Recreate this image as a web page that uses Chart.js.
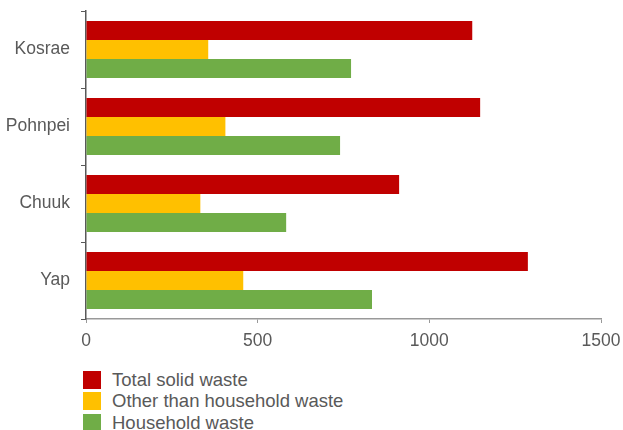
<!DOCTYPE html>
<html>
<head>
<meta charset="utf-8">
<script src="https://cdn.jsdelivr.net/npm/chart.js@4"></script>
<style>
  body { margin: 0; background: #fff; font-family: "Liberation Sans", Arial, sans-serif; }
  #wrap { position: relative; width: 623px; height: 430px; }
  #legend { position: absolute; left: 83px; top: 369px; }
  .item { display: flex; align-items: center; height: 21.5px; color: #595959; font-size: 18.5px; }
  .box { width: 18px; height: 18px; margin-right: 11px; }
</style>
</head>
<body>
<div id="wrap">
  <canvas id="chart" width="623" height="360"></canvas>
  <div id="legend"></div>
</div>
<script>
const islands = ["Kosrae", "Pohnpei", "Chuuk", "Yap"];
const seriesNames = ["Total solid waste", "Other than household waste", "Household waste"];
const totalWaste = [1125, 1148, 912, 1287];
const otherWaste = [356, 406, 333, 458];
const householdWaste = [772, 740, 583, 833];
const xTicks = [0, 500, 1000, 1500];

const colors = ["#c00000", "#ffc000", "#70ad47"];
const values = [totalWaste, otherWaste, householdWaste];

const datasets = seriesNames.map((name, i) => ({
  label: name,
  data: values[i],
  backgroundColor: colors[i],
  borderWidth: 0,
  barPercentage: 1.0,
  categoryPercentage: 0.74,
}));

const textColor = "#595959";
const font = { family: "'Liberation Sans', Arial, sans-serif", size: 17.5 };

new Chart(document.getElementById("chart"), {
  type: "bar",
  data: { labels: islands, datasets: datasets },
  options: {
    indexAxis: "y",
    responsive: false,
    animation: false,
    layout: { padding: { top: 11, right: 22, left: 0, bottom: 0 } },
    plugins: {
      legend: { display: false },
      tooltip: { enabled: false },
    },
    scales: {
      x: {
        min: xTicks[0],
        max: xTicks[xTicks.length - 1],
        afterBuildTicks: (scale) => {
          scale.ticks = xTicks.map((v) => ({ value: v }));
        },
        afterFit: (scale) => {
          scale.height = 41;
          scale.paddingLeft = 0;
          scale.paddingRight = 0;
        },
        grid: {
          drawOnChartArea: false,
          tickLength: 4,
          color: "#999999",
        },
        border: { color: "#999999", width: 1.5 },
        ticks: { color: textColor, font: font, padding: 8, callback: (v) => String(v) },
      },
      y: {
        afterFit: (scale) => {
          scale.width = 86;
          scale.paddingTop = 0;
          scale.paddingBottom = 0;
        },
        grid: {
          drawOnChartArea: false,
          tickLength: 5,
          color: "#595959",
        },
        border: { color: "#595959", width: 1.5 },
        ticks: { color: textColor, font: font, padding: 11 },
      },
    },
  },
});

const legend = document.getElementById("legend");
seriesNames.forEach((name, i) => {
  const row = document.createElement("div");
  row.className = "item";
  row.innerHTML = `<span class="box" style="background:${colors[i]}"></span><span>${name}</span>`;
  legend.appendChild(row);
});
</script>
</body>
</html>
